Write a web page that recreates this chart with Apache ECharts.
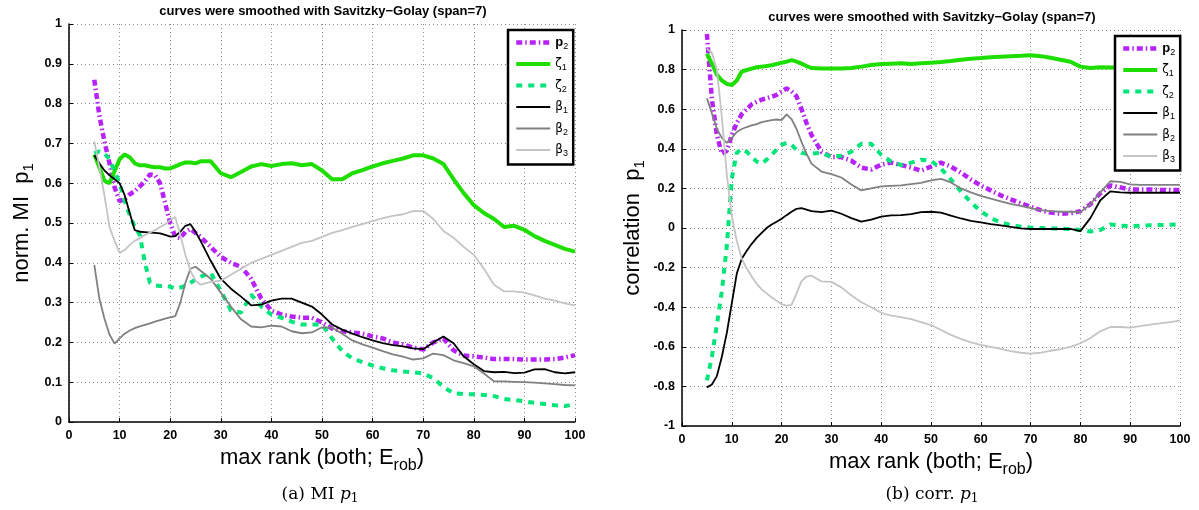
<!DOCTYPE html>
<html>
<head>
<meta charset="utf-8">
<script src="https://cdn.jsdelivr.net/npm/echarts@6/dist/echarts.min.js"></script>
<style>
html, body { margin: 0; padding: 0; background: #fff; }
#chart { width: 1199px; height: 510px; }
</style>
</head>
<body>
<div id="chart"></div>
<script>
// max rank (x values shared by every curve)
const rank = [5, 6, 7, 8, 9, 10, 11, 12, 13, 14, 15, 16, 17, 18, 19, 20, 21, 22, 23, 24, 25, 26,
  28, 30, 32, 34, 36, 38, 40, 42, 44, 46, 48, 50, 52, 54, 56, 58, 60, 62, 64, 66, 68, 70,
  72, 74, 76, 78, 80, 82, 84, 86, 88, 90, 92, 94, 96, 98, 100];

const seriesNames = ['p2', 'ζ1', 'ζ2', 'β1', 'β2', 'β3'];

// (a) normalised MI p1
const miP2 = [0.86, 0.77, 0.705, 0.65, 0.59, 0.555, 0.56, 0.572, 0.58, 0.592, 0.605, 0.622, 0.62, 0.6, 0.55, 0.5, 0.465, 0.462, 0.478, 0.485, 0.475, 0.465,
  0.44, 0.415, 0.4, 0.39, 0.36, 0.31, 0.28, 0.27, 0.265, 0.262, 0.262, 0.25, 0.235, 0.228, 0.225, 0.222, 0.215, 0.21, 0.2, 0.195,
  0.187, 0.182, 0.2, 0.21, 0.18, 0.167, 0.165, 0.162, 0.158, 0.158, 0.158, 0.157, 0.157, 0.157, 0.158, 0.162, 0.168];
const miZ1 = [0.672, 0.64, 0.606, 0.6, 0.63, 0.66, 0.672, 0.665, 0.65, 0.645, 0.645, 0.642, 0.64, 0.64, 0.637, 0.637, 0.642, 0.648, 0.652, 0.652, 0.65, 0.655,
  0.655, 0.625, 0.615, 0.628, 0.642, 0.648, 0.643, 0.648, 0.65, 0.645, 0.648, 0.632, 0.61, 0.61, 0.625, 0.633, 0.642, 0.65, 0.656, 0.662,
  0.67, 0.67, 0.662, 0.648, 0.61, 0.575, 0.545, 0.525, 0.51, 0.49, 0.493, 0.483, 0.467, 0.455, 0.445, 0.435, 0.428];
const miZ2 = [0.675, 0.68, 0.675, 0.66, 0.63, 0.6, 0.555, 0.52, 0.49, 0.47, 0.4, 0.35, 0.343, 0.342, 0.342, 0.34, 0.335, 0.338, 0.342, 0.35, 0.358, 0.365,
  0.375, 0.33, 0.28, 0.275, 0.32, 0.29, 0.27, 0.262, 0.252, 0.245, 0.245, 0.245, 0.21, 0.178, 0.16, 0.15, 0.142, 0.135, 0.13, 0.127,
  0.125, 0.122, 0.11, 0.088, 0.072, 0.07, 0.07, 0.068, 0.065, 0.058, 0.055, 0.052, 0.048, 0.045, 0.042, 0.04, 0.045];
const miB1 = [0.67, 0.65, 0.632, 0.62, 0.61, 0.6, 0.57, 0.525, 0.482, 0.478, 0.477, 0.476, 0.475, 0.474, 0.47, 0.466, 0.467, 0.478, 0.493, 0.497, 0.478, 0.455,
  0.405, 0.36, 0.335, 0.315, 0.293, 0.295, 0.305, 0.31, 0.31, 0.3, 0.29, 0.27, 0.245, 0.232, 0.222, 0.213, 0.205, 0.198, 0.193, 0.19,
  0.185, 0.183, 0.2, 0.215, 0.198, 0.165, 0.145, 0.128, 0.125, 0.126, 0.123, 0.124, 0.132, 0.133, 0.125, 0.122, 0.125];
const miB2 = [0.395, 0.31, 0.26, 0.22, 0.197, 0.21, 0.222, 0.23, 0.236, 0.24, 0.244, 0.248, 0.252, 0.256, 0.26, 0.263, 0.266, 0.3, 0.35, 0.385, 0.39, 0.38,
  0.36, 0.325, 0.29, 0.258, 0.24, 0.238, 0.242, 0.24, 0.228, 0.223, 0.225, 0.238, 0.237, 0.222, 0.205, 0.195, 0.187, 0.178, 0.17, 0.164,
  0.157, 0.16, 0.172, 0.168, 0.155, 0.148, 0.14, 0.122, 0.102, 0.102, 0.101, 0.1, 0.099, 0.097, 0.095, 0.093, 0.092];
const miB3 = [0.705, 0.64, 0.57, 0.49, 0.455, 0.425, 0.432, 0.445, 0.455, 0.462, 0.47, 0.476, 0.482, 0.49, 0.497, 0.507, 0.515, 0.47, 0.42, 0.38, 0.355, 0.345,
  0.352, 0.355, 0.37, 0.385, 0.4, 0.41, 0.42, 0.43, 0.44, 0.45, 0.455, 0.465, 0.475, 0.482, 0.49, 0.497, 0.505, 0.512, 0.518, 0.522,
  0.53, 0.53, 0.51, 0.48, 0.463, 0.44, 0.42, 0.385, 0.345, 0.328, 0.328, 0.325, 0.318, 0.31, 0.305, 0.298, 0.293];

// (b) correlation p1
const crP2 = [0.98, 0.65, 0.47, 0.375, 0.39, 0.47, 0.53, 0.575, 0.6, 0.625, 0.638, 0.648, 0.655, 0.663, 0.672, 0.69, 0.705, 0.69, 0.665, 0.6, 0.53, 0.47,
  0.385, 0.358, 0.358, 0.34, 0.305, 0.295, 0.32, 0.33, 0.318, 0.305, 0.29, 0.31, 0.33, 0.31, 0.28, 0.245, 0.215, 0.19, 0.165, 0.145,
  0.125, 0.108, 0.09, 0.078, 0.072, 0.075, 0.085, 0.12, 0.175, 0.215, 0.205, 0.195, 0.195, 0.195, 0.193, 0.192, 0.192];
const crZ1 = [0.88, 0.83, 0.775, 0.745, 0.728, 0.722, 0.745, 0.79, 0.798, 0.805, 0.812, 0.815, 0.818, 0.822, 0.828, 0.835, 0.84, 0.848, 0.84, 0.83, 0.818, 0.808,
  0.805, 0.806, 0.806, 0.808, 0.815, 0.823, 0.828, 0.83, 0.832, 0.828, 0.832, 0.835, 0.838, 0.843, 0.85, 0.855, 0.858, 0.862, 0.865, 0.868,
  0.87, 0.873, 0.868, 0.86, 0.85, 0.84, 0.815, 0.808, 0.812, 0.81, 0.81, 0.8, 0.795, 0.79, 0.785, 0.78, 0.777];
const crZ2 = [-0.77, -0.65, -0.49, -0.32, -0.09, 0.25, 0.38, 0.4, 0.385, 0.36, 0.335, 0.325, 0.345, 0.37, 0.395, 0.42, 0.43, 0.42, 0.395, 0.38, 0.375, 0.375,
  0.38, 0.36, 0.365, 0.385, 0.425, 0.425, 0.37, 0.335, 0.318, 0.33, 0.345, 0.34, 0.3, 0.245, 0.185, 0.13, 0.085, 0.05, 0.028, 0.015,
  0.007, 0.002, 0, -0.002, -0.003, -0.005, -0.01, -0.018, -0.01, 0.018, 0.012, 0.01, 0.012, 0.014, 0.015, 0.016, 0.018];
const crB1 = [-0.805, -0.79, -0.748, -0.65, -0.53, -0.38, -0.23, -0.155, -0.115, -0.08, -0.05, -0.025, 0, 0.018, 0.032, 0.047, 0.065, 0.082, 0.097, 0.1, 0.093, 0.085,
  0.08, 0.088, 0.072, 0.05, 0.032, 0.042, 0.057, 0.064, 0.065, 0.07, 0.08, 0.082, 0.078, 0.062, 0.048, 0.036, 0.028, 0.02, 0.013, 0.006,
  -0.002, -0.005, -0.005, -0.005, -0.005, -0.005, -0.016, 0.05, 0.14, 0.185, 0.18, 0.178, 0.178, 0.178, 0.178, 0.178, 0.178];
const crB2 = [0.655, 0.58, 0.5, 0.455, 0.43, 0.455, 0.485, 0.5, 0.51, 0.518, 0.525, 0.535, 0.54, 0.545, 0.548, 0.545, 0.574, 0.55, 0.5, 0.435, 0.375, 0.325,
  0.285, 0.272, 0.255, 0.22, 0.19, 0.2, 0.21, 0.213, 0.215, 0.222, 0.228, 0.24, 0.248, 0.23, 0.2, 0.18, 0.162, 0.148, 0.135, 0.122,
  0.112, 0.1, 0.09, 0.085, 0.082, 0.082, 0.08, 0.12, 0.18, 0.236, 0.233, 0.22, 0.218, 0.218, 0.218, 0.218, 0.218];
const crB3 = [0.905, 0.885, 0.8, 0.56, 0.27, 0.06, -0.065, -0.155, -0.205, -0.245, -0.282, -0.31, -0.33, -0.35, -0.368, -0.385, -0.392, -0.388, -0.33, -0.268, -0.245, -0.24,
  -0.27, -0.272, -0.3, -0.34, -0.375, -0.4, -0.428, -0.442, -0.45, -0.46, -0.475, -0.49, -0.515, -0.54, -0.56, -0.578, -0.59, -0.6, -0.61, -0.622,
  -0.63, -0.634, -0.63, -0.62, -0.612, -0.6, -0.582, -0.556, -0.522, -0.5, -0.5, -0.503, -0.496, -0.488, -0.482, -0.475, -0.468];

const miData = [miP2, miZ1, miZ2, miB1, miB2, miB3];
const crData = [crP2, crZ1, crZ2, crB1, crB2, crB3];

// line look per curve (MATLAB-ish)
const looks = [
  { color: '#b622f7', width: 4.5, type: [6, 3, 1.5, 3] },
  { color: '#1ede00', width: 4, type: 'solid' },
  { color: '#00e57a', width: 4, type: [6, 6] },
  { color: '#000000', width: 1.8, type: 'solid' },
  { color: '#808080', width: 1.8, type: 'solid' },
  { color: '#c4c4c4', width: 1.8, type: 'solid' }
];

const sans = 'Liberation Sans, Arial, sans-serif';
const serif = 'DejaVu Serif, Liberation Serif, serif';

function pairs(ys) {
  return rank.map((x, i) => [x, ys[i]]);
}

function legendLabel(name) {
  const main = name.charAt(0), sub = name.slice(1);
  return (main === 'p' ? '{b|' : '{g|') + main + '}{s|' + sub + '}';
}

function tick(v) {
  const r = Math.round(v * 10) / 10;
  return String(r === 0 ? 0 : r);
}

const series = [];
[miData, crData].forEach((set, panel) => {
  set.forEach((ys, k) => {
    series.push({
      type: 'line',
      name: seriesNames[k],
      xAxisIndex: panel,
      yAxisIndex: panel,
      data: pairs(ys),
      symbol: 'none',
      silent: true,
      animation: false,
      itemStyle: { color: looks[k].color },
      lineStyle: { color: looks[k].color, width: looks[k].width, type: looks[k].type },
      z: 2 + k * 0.1
    });
  });
});

function xAxis(gi) {
  return {
    type: 'value', gridIndex: gi, min: 0, max: 100, interval: 10,
    name: '{m|max rank (both; E}{s|rob}{m|)}',
    nameLocation: 'middle', nameGap: 14,
    nameTextStyle: {
      rich: {
        m: { fontFamily: sans, fontSize: 22, color: '#000' },
        s: { fontFamily: sans, fontSize: 16, color: '#000', padding: [15, 0, 0, 0] }
      }
    },
    axisLine: { onZero: false, lineStyle: { color: '#000', width: 1.5 } },
    axisTick: { inside: true, length: 4, lineStyle: { color: '#000' } },
    axisLabel: { color: '#000', fontFamily: sans, fontWeight: 'bold', fontSize: 12.5, margin: 7 },
    splitLine: { show: true, lineStyle: { color: '#8a8a8a', type: [1, 3], width: 1 } }
  };
}

function yAxis(gi, min, max, step, label, gap) {
  return {
    type: 'value', gridIndex: gi, min: min, max: max, interval: step,
    name: '{m|' + label + '}{s|1}',
    nameLocation: 'middle', nameGap: gap,
    nameTextStyle: {
      rich: {
        m: { fontFamily: sans, fontSize: 22, color: '#000' },
        s: { fontFamily: sans, fontSize: 15, color: '#000', padding: [13, 0, 0, 0] }
      }
    },
    axisLine: { onZero: false, lineStyle: { color: '#000', width: 1.5 } },
    axisTick: { inside: true, length: 4, lineStyle: { color: '#000' } },
    axisLabel: { color: '#000', fontFamily: sans, fontWeight: 'bold', fontSize: 12.5, margin: 7, formatter: tick },
    splitLine: { show: true, lineStyle: { color: '#8a8a8a', type: [1, 3], width: 1 } }
  };
}

function legend(left, top) {
  return {
    orient: 'vertical', left: left, top: top,
    data: seriesNames,
    selectedMode: false,
    itemWidth: 34, itemHeight: 14, itemGap: 7,
    padding: [6, 5, 6, 6],
    backgroundColor: '#fff',
    borderColor: '#000', borderWidth: 2.5, borderRadius: 0,
    itemStyle: { opacity: 0 },
    lineStyle: { width: 'inherit', type: 'inherit' },
    formatter: legendLabel,
    textStyle: {
      color: '#000',
      rich: {
        b: { fontFamily: sans, fontWeight: 'bold', fontSize: 13, color: '#000' },
        g: { fontFamily: 'DejaVu Sans, sans-serif', fontSize: 12, color: '#000' },
        s: { fontFamily: sans, fontSize: 9, color: '#000', padding: [8, 0, 0, 0] }
      }
    }
  };
}

const titleText = 'curves were smoothed with Savitzky\u2212Golay (span=7)';

const chart = echarts.init(document.getElementById('chart'), null, { renderer: 'canvas' });
chart.setOption({
  animation: false,
  backgroundColor: '#fff',
  grid: [
    { left: 69, top: 24, width: 506, height: 398 },
    { left: 682, top: 30, width: 498, height: 396 }
  ],
  xAxis: [xAxis(0), xAxis(1)],
  yAxis: [
    yAxis(0, 0, 1, 0.1, 'norm. MI  p', 33),
    yAxis(1, -1, 1, 0.2, 'correlation  p', 35)
  ],
  legend: [legend(508, 30), legend(1115, 36)],
  series: series,
  graphic: [
    { type: 'text', x: 323, y: 11, style: { text: titleText, font: 'bold 13px ' + sans, fill: '#000', textAlign: 'center', textVerticalAlign: 'middle' } },
    { type: 'text', x: 932, y: 17, style: { text: titleText, font: 'bold 13px ' + sans, fill: '#000', textAlign: 'center', textVerticalAlign: 'middle' } },
    {
      type: 'text', x: 320, y: 495,
      style: {
        text: '{n|(a) MI }{i|p}{s|1}', textAlign: 'center', textVerticalAlign: 'middle',
        rich: {
          n: { fontFamily: serif, fontSize: 17, fill: '#000' },
          i: { fontFamily: serif, fontStyle: 'italic', fontSize: 17, fill: '#000' },
          s: { fontFamily: serif, fontSize: 12, fill: '#000', padding: [8, 0, 0, 0] }
        }
      }
    },
    {
      type: 'text', x: 932, y: 495,
      style: {
        text: '{n|(b) corr. }{i|p}{s|1}', textAlign: 'center', textVerticalAlign: 'middle',
        rich: {
          n: { fontFamily: serif, fontSize: 17, fill: '#000' },
          i: { fontFamily: serif, fontStyle: 'italic', fontSize: 17, fill: '#000' },
          s: { fontFamily: serif, fontSize: 12, fill: '#000', padding: [8, 0, 0, 0] }
        }
      }
    }
  ]
});
</script>
</body>
</html>
